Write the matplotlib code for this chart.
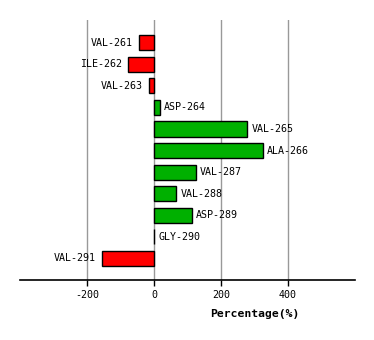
import matplotlib
matplotlib.use("Agg")
import matplotlib.pyplot as plt

residues = ["VAL-261", "ILE-262", "VAL-263", "ASP-264", "VAL-265", "ALA-266",
            "VAL-287", "VAL-288", "ASP-289", "GLY-290", "VAL-291"]
percent = [-45, -78, -15, 18, 279, 324, 124, 66, 112, 1, -156]
ticks = [-200, 0, 200, 400]

plt.rcParams["font.family"] = ["DejaVu Sans Mono"]

fig = plt.figure(figsize=(3.74, 3.4), dpi=100)
ax = fig.add_axes([20 / 374, 1 - 280 / 340, 335 / 374, 260 / 340])

colors = ["#00b000" if v > 0 else "#ff0000" for v in percent]
ypos = list(range(len(residues)))
ax.barh(ypos, percent, height=0.7, color=colors, edgecolor="black", linewidth=1, zorder=3)

for y, v, name in zip(ypos, percent, residues):
    if v > 0:
        ax.annotate(name, (v, y), xytext=(3, 0), textcoords="offset points",
                    ha="left", va="center", fontsize=7.2)
    else:
        ax.annotate(name, (v, y), xytext=(-4.5, 0), textcoords="offset points",
                    ha="right", va="center", fontsize=7.2)

ax.set_xlim(-400, 600)
ax.set_ylim(11, -1.05)
ax.set_xticks(ticks)
ax.set_xticklabels([str(t) for t in ticks], fontsize=7.2)
ax.set_yticks([])
for t in ticks:
    ax.axvline(t, color="#999999", linewidth=1, zorder=1)

for side in ["top", "left", "right"]:
    ax.spines[side].set_visible(False)
ax.spines["bottom"].set_linewidth(1.2)
ax.tick_params(axis="x", length=4, width=1, pad=3)

fig.text(255 / 374, 1 - 314 / 340, "Percentage(%)", ha="center", va="center",
         fontsize=8.2, fontweight="bold")

fig.savefig("out.png", dpi=100)
